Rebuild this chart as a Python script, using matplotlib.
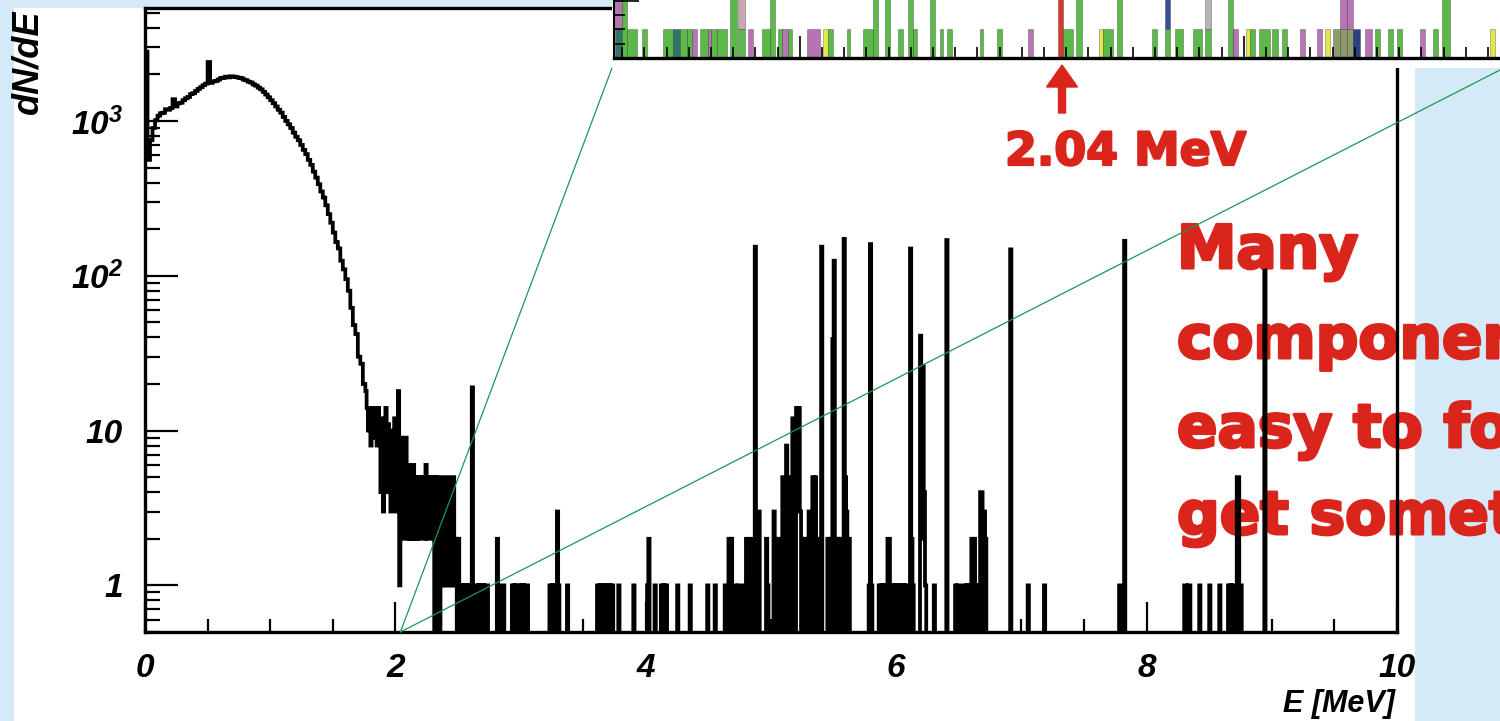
import numpy as np
import matplotlib.pyplot as plt
import matplotlib.patheffects as pe
from matplotlib.patches import Rectangle, FancyArrow, ConnectionPatch
from matplotlib.ticker import MultipleLocator, LogLocator, NullFormatter, FixedLocator

plt.rcParams['font.family'] = ['Liberation Sans', 'DejaVu Sans']
plt.rcParams['mathtext.fontset'] = 'custom'
plt.rcParams['mathtext.rm'] = 'Liberation Sans:bold:italic'
plt.rcParams['mathtext.it'] = 'Liberation Sans:bold:italic'
plt.rcParams['mathtext.bf'] = 'Liberation Sans:bold:italic'

# ---- data ----
# continuum, 0.02 MeV bins from 0 to 1.76 MeV
CONT_STEP = 0.02
CONT = [2800, 560, 750, 900, 1010, 1080, 1120, 1130, 1190, 1180,
        1210, 1380, 1240, 1300, 1310, 1360, 1400, 1430, 1490, 1510,
        1560, 1610, 1650, 1700, 1740, 2400, 1760, 1800, 1810, 1850,
        1890, 1900, 1930, 1910, 1940, 1930, 1920, 1900, 1890, 1850,
        1830, 1790, 1770, 1720, 1690, 1640, 1600, 1540, 1480, 1420,
        1360, 1300, 1240, 1180, 1130, 1060, 1000, 950, 900, 840,
        790, 750, 700, 650, 610, 560, 520, 470, 430, 390,
        350, 320, 285, 250, 220, 190, 165, 150, 125, 110,
        95, 80, 62, 48, 42, 30, 27, 20]

# noisy region, 0.01 MeV bins from 1.76 to 2.60 MeV
NOISE_START = 1.76
NOISE = [18, 14, 10, 14, 8, 13, 14, 9, 12, 8,
         14, 10, 4, 12, 3, 10, 14, 4, 11, 9,
         3, 10, 4, 12, 3, 9, 18, 1, 9, 2,
         8, 3, 9, 2, 6, 2, 5, 2, 6, 2,
         5, 2, 5, 2, 5, 3, 5, 2, 6, 2,
         5, 3, 5, 2, 5, 0, 5, 0, 5, 0,
         3, 1, 5, 1, 3, 1, 5, 1, 3, 1,
         5, 1, 2, 0, 2, 0, 1, 0, 1, 0,
         1, 0, 1, 0, 1]

# isolated non-empty 0.01 MeV bins above 2.6 MeV (lower edge, counts)
PEAK_E = [2.61, 2.64, 2.66, 2.68, 2.70, 2.72, 2.73, 2.81, 2.85, 2.86,
          2.93, 2.95, 2.97, 2.98, 3.00, 3.02, 3.04, 3.05,
          3.23, 3.25, 3.27, 3.29, 3.30, 3.37,
          3.61, 3.63, 3.65, 3.67, 3.69, 3.71, 3.73, 3.78, 3.90,
          4.01, 4.02, 4.07, 4.12, 4.14, 4.16, 4.25, 4.35, 4.49, 4.55,
          4.63, 4.66, 4.68, 4.71, 4.74, 4.75,
          4.79, 4.80, 4.82, 4.84, 4.86, 4.87, 4.89, 4.90,
          4.96, 4.97,
          5.02, 5.04, 5.06, 5.07, 5.09, 5.10, 5.12, 5.13, 5.17, 5.18,
          5.20, 5.21, 5.22, 5.23, 5.25, 5.27, 5.28, 5.30, 5.31, 5.33, 5.35, 5.36,
          5.40, 5.45, 5.47, 5.49, 5.50, 5.51, 5.53, 5.55, 5.58, 5.59, 5.60, 5.62,
          5.78, 5.79, 5.80,
          5.86, 5.88, 5.90, 5.92, 5.93, 5.94, 5.96, 5.98, 6.00, 6.02, 6.04, 6.06, 6.08,
          6.11, 6.12, 6.13, 6.19, 6.20, 6.21, 6.22, 6.23, 6.30, 6.40,
          6.47, 6.49, 6.50, 6.54, 6.56, 6.58, 6.60, 6.62, 6.63, 6.65, 6.67, 6.68, 6.70, 6.71,
          6.91, 7.05, 7.18, 7.78, 7.82,
          8.30, 8.31, 8.33, 8.34, 8.42, 8.50, 8.58, 8.65, 8.67, 8.69, 8.70, 8.72, 8.73, 8.75, 8.94]
PEAK_N = [19, 1, 1, 1, 1, 1, 1, 2, 1, 1,
          1, 1, 1, 1, 1, 1, 1, 1,
          1, 1, 1, 3, 1, 1,
          1, 1, 1, 1, 1, 1, 1, 1, 1,
          1, 2, 1, 1, 1, 1, 1, 1, 1, 1,
          1, 2, 2, 1, 1, 1,
          1, 2, 1, 2, 1, 154, 2, 3,
          2, 1,
          3, 2, 1, 2, 5, 2, 8, 5, 12, 6,
          14, 9, 14, 3, 2, 2, 1, 3, 2, 5, 5, 2,
          154, 2, 2, 39, 125, 2, 2, 2, 173, 5, 3, 2,
          1, 160, 1,
          1, 1, 1, 1, 2, 2, 1, 1, 1, 1, 1, 1, 1,
          150, 2, 1, 41, 2, 26, 4, 1, 1, 170,
          1, 1, 1, 1, 1, 1, 2, 2, 1, 1, 4, 4, 3, 2,
          148, 1, 1, 1, 168,
          1, 1, 1, 1, 1, 1, 1, 1, 1, 1, 1, 5, 5, 1, 108]

X_TICKS = [0, 2, 4, 6, 8, 10]
Y_TICKS = [1, 10, 100, 1000]
Y_LABELS = ['1', '10', r'$10^{2}$', r'$10^{3}$']

# zoomed component spectrum (keV): bar left edge, width, stacked bottom/top, component
INSET_LEFT = [1839.5, 1839.5, 1842.7, 1845.0, 1851.7, 1861.2, 1865.7, 1868.8, 1872.0, 1874.2,
              1877.8, 1881.4, 1882.8, 1885.5, 1891.4, 1895.0, 1895.0, 1899.5, 1905.8, 1909.4,
              1913.0, 1915.0, 1917.5, 1926.0, 1933.2, 1935.5, 1944.1, 1951.3, 1955.8, 1961.2,
              1967.0, 1971.5, 1973.8, 1981.4, 1985.9, 1989.1, 2004.0, 2011.6, 2025.6, 2039.1,
              2041.4, 2047.2, 2057.6, 2059.6, 2065.7, 2081.4, 2087.3, 2087.3, 2091.8, 2099.9,
              2105.3, 2105.3, 2115.7, 2117.9, 2123.8, 2125.8, 2129.6, 2135.5, 2140.0, 2148.1,
              2155.8, 2159.4, 2163.0, 2166.1, 2166.1, 2169.1, 2169.1, 2172.0, 2177.4, 2181.9,
              2187.7, 2191.8, 2202.2, 2208.0, 2212.1, 2233.7]
INSET_WIDTH = [3.2, 3.2, 2.3, 4.5, 2.3, 4.5, 3.1, 3.2, 2.2, 2.3,
               3.6, 1.4, 2.7, 4.5, 3.1, 3.1, 3.1, 2.2, 3.6, 2.2,
               2.0, 2.5, 2.0, 5.9, 2.3, 2.2, 1.3, 4.5, 2.2, 2.2,
               2.3, 2.3, 1.8, 2.3, 1.4, 2.3, 1.3, 2.3, 2.2, 2.3,
               4.5, 2.7, 2.0, 4.3, 2.2, 2.3, 2.2, 2.2, 3.6, 4.1,
               2.7, 2.7, 2.2, 2.3, 2.0, 2.0, 5.0, 2.7, 2.3, 2.3,
               2.2, 2.2, 3.1, 3.0, 3.0, 2.9, 2.9, 3.1, 3.1, 2.2,
               2.3, 2.3, 2.2, 2.3, 3.6, 2.2]
INSET_BOTTOM = [1, 0, 0, 0, 0, 0, 0, 0, 0, 0,
                0, 0, 0, 0, 0, 1, 0, 0, 0, 0,
                0, 0, 0, 0, 0, 0, 0, 0, 0, 0,
                0, 0, 0, 0, 0, 0, 0, 0, 0, 0,
                0, 0, 0, 0, 0, 0, 1, 0, 0, 0,
                1, 0, 0, 0, 0, 0, 0, 0, 0, 0,
                0, 0, 0, 1, 0, 1, 0, 0, 0, 0,
                0, 0, 0, 0, 0, 0]
INSET_TOP = [3, 1, 3, 1, 1, 1, 1, 1, 1, 1,
             1, 1, 1, 1, 3, 3, 1, 1, 1, 3,
             1, 1, 1, 1, 1, 1, 1, 1, 3, 3,
             1, 3, 1, 3, 1, 1, 1, 1, 1, 3,
             1, 3, 1, 1, 3, 1, 3, 1, 1, 1,
             3, 1, 3, 1, 1, 1, 1, 1, 1, 1,
             1, 1, 1, 3, 1, 3, 1, 1, 1, 1,
             1, 1, 1, 1, 3, 1]
INSET_COMP = ['p', 't', 'g', 'g', 'g', 'g', 't', 'g', 'g', 'p',
              'g', 'p', 'g', 'g', 'g', 'r', 'g', 'p', 'g', 'g',
              'g', 'p', 'g', 'p', 'y', 'g', 'g', 'g', 'g', 'g',
              'g', 'g', 'g', 'g', 'g', 'g', 'g', 'g', 'p', 'R',
              'g', 'g', 'y', 'g', 'g', 'g', 'b', 'g', 'g', 'g',
              'k', 'g', 'g', 'p', 'y', 'g', 'g', 'g', 'g', 'p',
              'p', 'y', 'o', 'p', 'o', 'p', 'o', 'n', 'p', 'g',
              'g', 'g', 'p', 'g', 'g', 'y']
COMP_COLORS = {'g': '#5cb848', 'p': '#b774b4', 'r': '#c9a6b0', 't': '#2f7466',
               'y': '#e4e650', 'b': '#3a4b9a', 'k': '#b5b5b5', 'R': '#d83a2e',
               'o': '#8c9c6c', 'n': '#2e4080'}

RED = '#da251d'
W, H = 1500.0, 721.0

# ---- build histogram ----
fine_edges = np.round(np.arange(NOISE_START, 10.0001, 0.01), 4)
tail = np.zeros(len(fine_edges) - 1)
tail[:len(NOISE)] = NOISE
for e, n in zip(PEAK_E, PEAK_N):
    tail[int(round((e - NOISE_START) / 0.01))] = n
cont_edges = np.arange(len(CONT) + 1) * CONT_STEP
edges = np.concatenate([cont_edges, fine_edges[1:]])
vals = np.concatenate([CONT, tail]).astype(float)
vals = np.where(vals > 0, vals, 1e-2)   # empty bins drop below the axis

fig = plt.figure(figsize=(15, 7.21), dpi=100, facecolor='#d4eaf8')
fig.add_artist(Rectangle((14 / W, 0), (1415 - 14) / W, 1 - 8 / H,
                         transform=fig.transFigure, facecolor='white',
                         edgecolor='none', zorder=-1))

ax = fig.add_axes([145 / W, 1 - 632 / H, (1397 - 145) / W, (632 - 8) / H])
ax.set_facecolor('none')
ax.stairs(vals, edges, baseline=None, color='black', lw=2.7, zorder=2)
ax.set_yscale('log')
ax.set_xlim(0, 10)
ax.set_ylim(0.5, 5360)

ax.set_xticks(X_TICKS)
ax.xaxis.set_minor_locator(MultipleLocator(0.5))
ax.set_yticks(Y_TICKS, labels=Y_LABELS)
ax.yaxis.set_minor_locator(LogLocator(base=10, subs=np.arange(2, 10)))
ax.yaxis.set_minor_formatter(NullFormatter())
ax.tick_params(which='both', direction='in', width=1.6, top=False, right=False,
               labelsize=24)
ax.tick_params(axis='x', which='major', length=21.6, pad=15)
ax.tick_params(axis='x', which='minor', length=9.4)
ax.tick_params(axis='y', which='major', length=23.8, pad=16)
ax.tick_params(axis='y', which='minor', length=10.8)
for lab in ax.get_xticklabels() + ax.get_yticklabels():
    lab.set_fontweight('bold')
    lab.set_fontstyle('italic')
for sp in ax.spines.values():
    sp.set_linewidth(2.4)

fig.text(28 / W, 1 - 10 / H, 'dN/dE', rotation=90, ha='center', va='top',
         fontsize=26, fontweight='bold', fontstyle='italic')
fig.text(1395 / W, 1 - 704 / H, 'E [MeV]', ha='right', va='center',
         fontsize=22, fontweight='bold', fontstyle='italic')

# big red text, sitting under the histogram lines
heavy = [pe.withStroke(linewidth=2.2, foreground=RED)]
for s, yb in zip(['Many', 'components', 'easy to forget', 'get something wrong'],
                 [268, 358, 447, 534]):
    ax.text(1177 / W, 1 - yb / H, s, transform=fig.transFigure, family='DejaVu Sans',
            fontsize=43, fontweight='bold', color=RED, va='baseline', ha='left',
            zorder=1.5, path_effects=heavy)

# zoom guide lines
for xb, yb in [(612, 68), (1500, 70)]:
    fig.add_artist(ConnectionPatch(xyA=(2.04, 0.5), coordsA=ax.transData,
                                   xyB=(xb / W, 1 - yb / H), coordsB=fig.transFigure,
                                   color='#1a9850', lw=0.9, zorder=2))

# ---- inset with the component spectrum ----
fig.add_artist(Rectangle((612 / W, 1 - 68 / H), (W - 612) / W, 68 / H,
                         transform=fig.transFigure, facecolor='white',
                         edgecolor='none', zorder=3))
axin = fig.add_axes([614 / W, 1 - 58 / H, 0.6038, 86 / H], zorder=4)
axin.set_facecolor('none')
axin.bar(INSET_LEFT, np.subtract(INSET_TOP, INSET_BOTTOM), width=INSET_WIDTH,
         bottom=INSET_BOTTOM, align='edge',
         color=[COMP_COLORS[c] for c in INSET_COMP],
         edgecolor=(0, 0, 0, 0.3), linewidth=0.6)
axin.set_xlim(1839.1, 2247.1)
axin.set_ylim(0, 3)
axin.xaxis.set_major_locator(MultipleLocator(200, offset=122.8))
axin.xaxis.set_minor_locator(MultipleLocator(10, offset=2.8))
axin.yaxis.set_major_locator(FixedLocator([2]))
axin.yaxis.set_minor_locator(FixedLocator([0.5, 1, 1.5]))
axin.tick_params(which='both', direction='in', width=1.2,
                 labelbottom=False, labelleft=False)
axin.tick_params(axis='x', which='major', length=16)
axin.tick_params(axis='x', which='minor', length=8)
axin.tick_params(axis='y', which='major', length=18)
axin.tick_params(axis='y', which='minor', length=8)
axin.spines['top'].set_visible(False)
axin.spines['right'].set_visible(False)
axin.spines['bottom'].set_linewidth(2.4)
axin.spines['left'].set_linewidth(1.5)

# arrow and label for the 2.04 MeV line
fig.add_artist(FancyArrow(1062 / W, 1 - 113 / H, 0, (113 - 65) / H,
                          width=7 / W, head_width=31 / W, head_length=22 / H,
                          length_includes_head=True, color=RED,
                          transform=fig.transFigure, zorder=5))
fig.text(1005 / W, 1 - 165 / H, '2.04 MeV', family='DejaVu Sans', fontsize=33,
         fontweight='bold', color=RED, va='baseline', ha='left', zorder=5,
         path_effects=[pe.withStroke(linewidth=1.6, foreground=RED)])

fig.savefig('out.png', dpi=100, facecolor=fig.get_facecolor())
